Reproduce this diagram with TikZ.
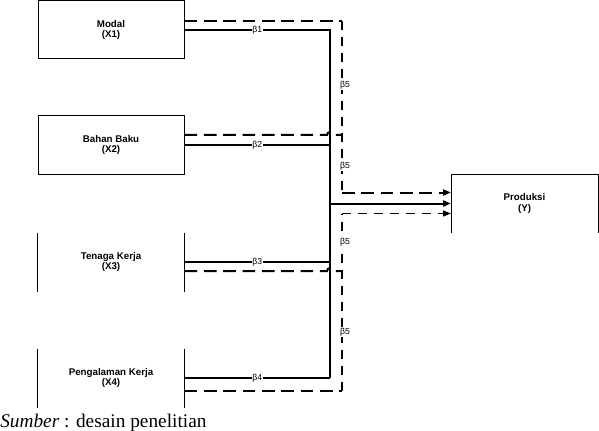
\documentclass[tikz,border=0pt]{standalone}
\usepackage{fontspec}
\setmainfont{Liberation Serif}
\newfontfamily\boxfont{Liberation Sans}
\usetikzlibrary{calc,arrows.meta}

\begin{document}
\begin{tikzpicture}[x=0.75pt,y=-0.75pt,
		varbox/.style={minimum width=109.5pt,minimum height=43.5pt,inner sep=0pt,align=center,line width=0.75pt,font=\boxfont\bfseries\fontsize{7.3}{7.8}\selectfont},
		beta/.style={fill=white,inner sep=0.5pt,font=\boxfont\fontsize{6.5}{7}\selectfont},
		solidthin/.style={line width=0.8pt},
		solidthick/.style={line width=1.5pt},
		dashthick/.style={line width=1.5pt,dash pattern=on 9.5pt off 5pt},
		dashthin/.style={line width=0.8pt,dash pattern=on 7pt off 5pt},
		headarrow/.style={-{Triangle[length=6pt,width=4.5pt]}}]
			%%%%% START %%%%%
			
			\useasboundingbox (0,0) rectangle (599,431);
			
			\node[varbox,draw] (modal) at (111,30) {Modal\\(X1)};
			\node[varbox,draw] (bahan) at (111,145) {Bahan Baku\\(X2)};
			\node[varbox] (tenaga) at (111,262) {Tenaga Kerja\\(X3)};
			\draw[line width=0.75pt] (tenaga.north west) -- (tenaga.south west) (tenaga.north east) -- (tenaga.south east);
			\node[varbox] (pengalaman) at (111,378) {Pengalaman Kerja\\(X4)};
			\draw[line width=0.75pt] (pengalaman.north west) -- (pengalaman.south west) (pengalaman.north east) -- (pengalaman.south east);
			\node[varbox] (produksi) at (524.5,203.5) {Produksi\\(Y)};
			\draw[line width=0.75pt] (produksi.south west) -- (produksi.north west) -- (produksi.north east) -- (produksi.south east);
			
			\coordinate (bus) at (330,0);
			\coordinate (dbus) at (342,0);
			\coordinate (modalD) at ($(modal.east)+(0,-9)$);
			\coordinate (bahanD) at ($(bahan.east)+(0,-10)$);
			\coordinate (tenagaD) at ($(tenaga.east)+(0,9)$);
			\coordinate (pengD) at ($(pengalaman.east)+(0,13)$);
			\coordinate (inTop) at ($(produksi.west)+(0,-11)$);
			\coordinate (inBot) at ($(produksi.west)+(0,10)$);
			
			% solid paths
			\draw[solidthin] (modal.east) -- node[beta] (b1) {β1} (modal.east -| bus) -- (pengalaman.east -| bus);
			\draw[solidthick] (bahan.east) -- node[beta] (b2) {β2} (bahan.east -| bus);
			\draw[solidthick] (tenaga.east) -- node[beta] (b3) {β3} (tenaga.east -| bus);
			\draw[solidthick] (pengalaman.east) -- node[beta] (b4) {β4} (pengalaman.east -| bus);
			\draw[solidthick,headarrow] (produksi.west -| bus) -- (produksi.west);
			
			% dashed paths
			\draw[dashthick] (modalD) -- (modalD -| dbus);
			\draw[dashthick] (bahanD) -- ($(bahanD -| bus)+(-3,0)$) arc[start angle=180,end angle=360,radius=3] -- (bahanD -| dbus);
			\draw[dashthick] (tenagaD) -- ($(tenagaD -| bus)+(-3,0)$) arc[start angle=180,end angle=360,radius=3] -- (tenagaD -| dbus);
			\draw[dashthick] (pengD) -- (pengD -| dbus);
			\draw[dashthin] (modalD -| dbus) -- (inTop -| dbus);
			\draw[dashthin] (pengD -| dbus) -- (inBot -| dbus);
			\draw[dashthick,headarrow] (inTop -| dbus) -- (inTop);
			\draw[dashthin,headarrow] (inBot -| dbus) -- (inBot);
			
			\foreach \yy in {85,166,242,332}
				\node[beta] (b5-\yy) at ($(dbus)+(3,\yy)$) {β5};
			
			\node[anchor=base west,inner sep=0pt,font=\fontsize{14.5}{16}\selectfont] (sumber) at (0,427) {\textit{Sumber} : desain penelitian};
			
			%%%%% END %%%%%
		\end{tikzpicture}
\end{document}
